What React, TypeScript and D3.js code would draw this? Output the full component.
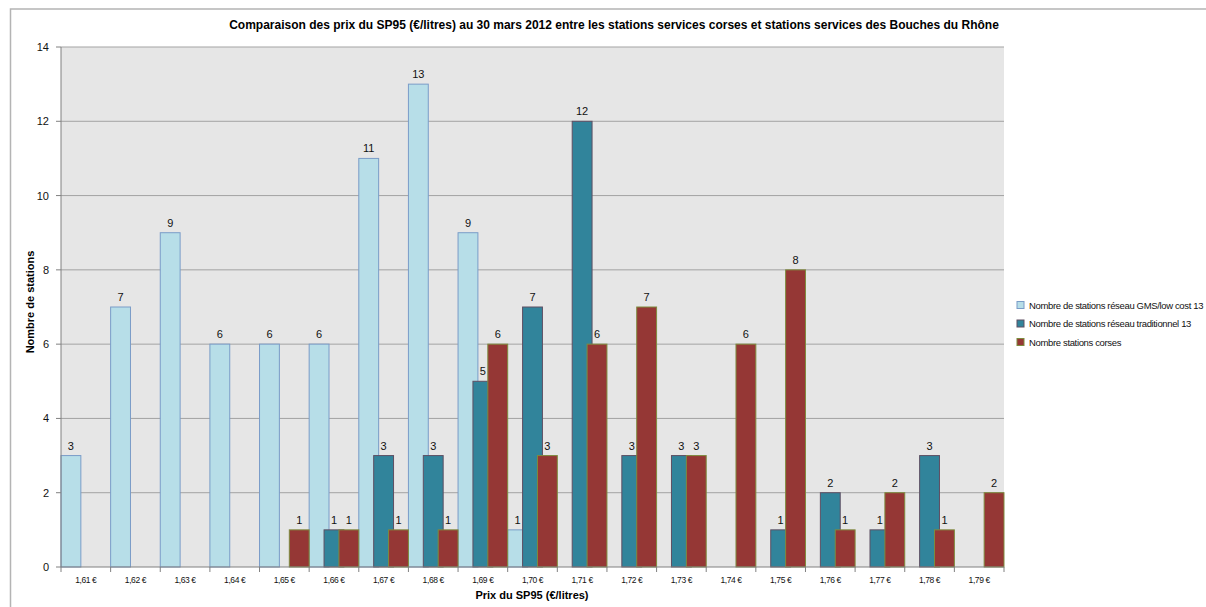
import React from "react";
import * as d3 from "d3";

const categories = ["1,61 €", "1,62 €", "1,63 €", "1,64 €", "1,65 €", "1,66 €", "1,67 €", "1,68 €", "1,69 €", "1,70 €", "1,71 €", "1,72 €", "1,73 €", "1,74 €", "1,75 €", "1,76 €", "1,77 €", "1,78 €", "1,79 €"];
const gmsLowCost = [3, 7, 9, 6, 6, 6, 11, 13, 9, 1, 0, 0, 0, 0, 0, 0, 0, 0, 0];
const traditionnel = [0, 0, 0, 0, 0, 1, 3, 3, 5, 7, 12, 3, 3, 0, 1, 2, 1, 3, 0];
const corses = [0, 0, 0, 0, 1, 1, 1, 1, 6, 3, 6, 7, 3, 6, 8, 1, 2, 1, 2];
const seriesNames = [
  "Nombre de stations réseau GMS/low cost 13",
  "Nombre de stations réseau traditionnel 13",
  "Nombre stations corses",
];
const yTicks = [0, 2, 4, 6, 8, 10, 12, 14];

const title = "Comparaison des prix du SP95 (€/litres)  au 30 mars 2012 entre les stations services corses et stations services des Bouches du Rhône";

const fills = ["#B7DEE8", "#31849B", "#953735"];
const strokes = ["#7A9CC8", "#5E4F63", "#7E8B3E"];

const W = 1206;
const H = 607;
const plot = { left: 61, right: 1004, top: 47, bottom: 567 };
const font = "'Liberation Sans', Arial, sans-serif";

export default function App() {
  const x = d3.scaleBand<string>().domain(categories).range([plot.left, plot.right]).padding(0);
  const y = d3.scaleLinear().domain([0, 14]).range([plot.bottom, plot.top]);
  const bw = x.bandwidth();
  const barW = bw * 0.4;
  const step = bw * 0.3;
  const series = [gmsLowCost, traditionnel, corses];

  return (
    <svg width={W} height={H} style={{ position: "absolute", left: 0, top: 0, background: "#fff" }}>
      {/* outer frame */}
      <rect x={10.5} y={9} width={1220} height={620} fill="none" stroke="#B4B4B4" strokeWidth={1.5} />

      <text x={614} y={29} textAnchor="middle" fontFamily={font} fontWeight="bold" fontSize={12} fill="#000">
        {title}
      </text>

      {/* plot background */}
      <rect x={plot.left} y={plot.top} width={plot.right - plot.left} height={plot.bottom - plot.top} fill="#E6E6E6" />

      {/* gridlines */}
      {yTicks.filter((t) => t > 0).map((t) => (
        <line key={t} x1={plot.left} x2={plot.right} y1={y(t)} y2={y(t)} stroke="#A3A3A3" strokeWidth={1} />
      ))}

      {/* bars */}
      {series.map((vals, si) => (
        <g key={si}>
          {vals.map((v, i) =>
            v > 0 ? (
              <rect
                key={i}
                x={x(categories[i])! + si * step}
                y={y(v)}
                width={barW}
                height={y(0) - y(v)}
                fill={fills[si]}
                stroke={strokes[si]}
                strokeWidth={1}
              />
            ) : null
          )}
        </g>
      ))}

      {/* value labels */}
      {series.map((vals, si) => (
        <g key={"l" + si}>
          {vals.map((v, i) =>
            v > 0 ? (
              <text
                key={i}
                x={x(categories[i])! + si * step + barW / 2}
                y={y(v) - 6}
                textAnchor="middle"
                fontFamily={font}
                fontSize={11}
                fill="#111"
              >
                {v}
              </text>
            ) : null
          )}
        </g>
      ))}

      {/* y axis */}
      <line x1={plot.left} x2={plot.left} y1={plot.top} y2={plot.bottom} stroke="#808080" />
      {yTicks.map((t) => (
        <g key={t}>
          <line x1={plot.left - 5} x2={plot.left} y1={y(t)} y2={y(t)} stroke="#808080" />
          <text x={49} y={y(t) + 4} textAnchor="end" fontFamily={font} fontSize={11} fill="#111">
            {t}
          </text>
        </g>
      ))}

      {/* x axis */}
      <line x1={plot.left} x2={plot.right} y1={plot.bottom} y2={plot.bottom} stroke="#808080" />
      {categories.map((c, i) => (
        <g key={c}>
          <line x1={x(c)!} x2={x(c)!} y1={plot.bottom} y2={plot.bottom + 5} stroke="#808080" />
          {i === categories.length - 1 && (
            <line x1={plot.right} x2={plot.right} y1={plot.bottom} y2={plot.bottom + 5} stroke="#808080" />
          )}
          <text
            x={x(c)! + bw / 2}
            y={583}
            textAnchor="middle"
            fontFamily={font}
            fontSize={8.5}
            letterSpacing={-0.4}
            fill="#111"
          >
            {c}
          </text>
        </g>
      ))}

      <text x={532} y={599} textAnchor="middle" fontFamily={font} fontWeight="bold" fontSize={11} fill="#000">
        Prix du SP95 (€/litres)
      </text>
      <text
        transform="translate(34,302) rotate(-90)"
        textAnchor="middle"
        fontFamily={font}
        fontWeight="bold"
        fontSize={11}
        fill="#000"
      >
        Nombre de stations
      </text>

      {/* legend */}
      {seriesNames.map((name, i) => (
        <g key={name} transform={`translate(1017, ${305 + i * 18.5})`}>
          <rect x={0} y={-3.5} width={7} height={7} fill={fills[i]} stroke={strokes[i]} />
          <text x={12} y={3.5} fontFamily={font} fontSize={9.5} letterSpacing={-0.35} fill="#111">
            {name}
          </text>
        </g>
      ))}
    </svg>
  );
}
